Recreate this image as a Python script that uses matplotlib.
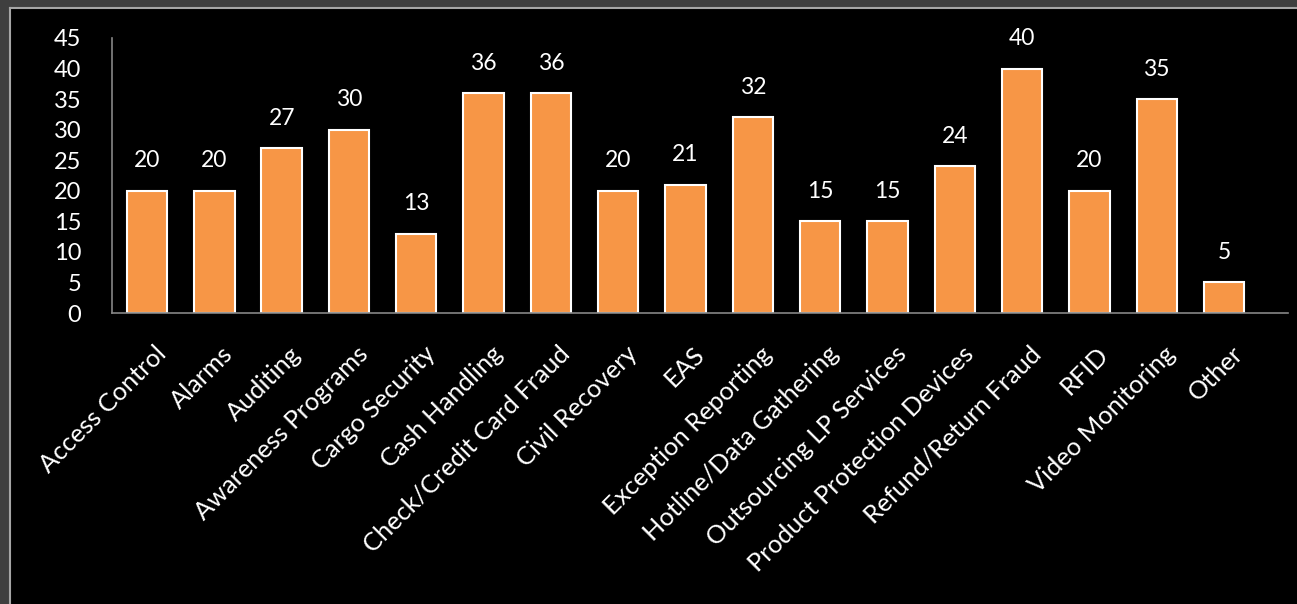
import matplotlib.pyplot as plt
from matplotlib.patches import Rectangle
from matplotlib.lines import Line2D
from matplotlib.transforms import ScaledTranslation

categories = ['Access Control', 'Alarms', 'Auditing', 'Awareness Programs', 'Cargo Security',
              'Cash Handling', 'Check/Credit Card Fraud', 'Civil Recovery', 'EAS',
              'Exception Reporting', 'Hotline/Data Gathering', 'Outsourcing LP Services',
              'Product Protection Devices', 'Refund/Return Fraud', 'RFID', 'Video Monitoring', 'Other']
values = [20, 20, 27, 30, 13, 36, 36, 20, 21, 32, 15, 15, 24, 40, 20, 35, 5]
y_ticks = [0, 5, 10, 15, 20, 25, 30, 35, 40, 45]

plt.rcParams['font.family'] = ['Lato', 'DejaVu Sans']

fig = plt.figure(figsize=(12.97, 6.04), dpi=100)
fig.patch.set_facecolor('#3f3f3f')

# black panel with light edge
fig.patches.append(Rectangle((10 / 1297, 0), 1 - 10 / 1297, 1 - 8 / 604,
                             transform=fig.transFigure, facecolor='black',
                             edgecolor='none', zorder=-10))
fig.lines.append(Line2D([10 / 1297, 1], [1 - 8 / 604, 1 - 8 / 604], transform=fig.transFigure,
                        color='#a6a6a6', lw=1.5, zorder=-9))
fig.lines.append(Line2D([10 / 1297, 10 / 1297], [0, 1 - 8 / 604], transform=fig.transFigure,
                        color='#a6a6a6', lw=1.5, zorder=-9))

ax = fig.add_axes([112 / 1297, 1 - 313 / 604, (1288 - 112) / 1297, (313 - 38) / 604])
ax.set_facecolor('black')

x = range(len(categories))
bars = ax.bar(x, values, width=0.6, color='#f79646', edgecolor='white', linewidth=1.5)

for xi, v in zip(x, values):
    ax.annotate(str(v), (xi, v), xytext=(0, 14), textcoords='offset points',
                ha='center', va='bottom', color='white', fontsize=16.5)

ax.set_xlim(-0.52, 16.95)
ax.set_ylim(0, 45)
ax.set_yticks(y_ticks)
ax.set_yticklabels([str(t) for t in y_ticks], color='white', fontsize=17)
ax.set_xticks(list(x))
ax.set_xticklabels(categories, rotation=45, ha='right', rotation_mode='anchor',
                   color='white', fontsize=18.3)
ax.tick_params(axis='x', length=0, pad=21)
ax.tick_params(axis='y', length=0, pad=22)

# nudge rotated labels a little to the right
shift = ScaledTranslation(7 / 100, 0, fig.dpi_scale_trans)
for lbl in ax.get_xticklabels():
    lbl.set_transform(lbl.get_transform() + shift)

for s in ['top', 'right']:
    ax.spines[s].set_visible(False)
for s in ['left', 'bottom']:
    ax.spines[s].set_color('#868686')
    ax.spines[s].set_linewidth(1.2)

plt.savefig('out.png', dpi=100, facecolor=fig.get_facecolor())
